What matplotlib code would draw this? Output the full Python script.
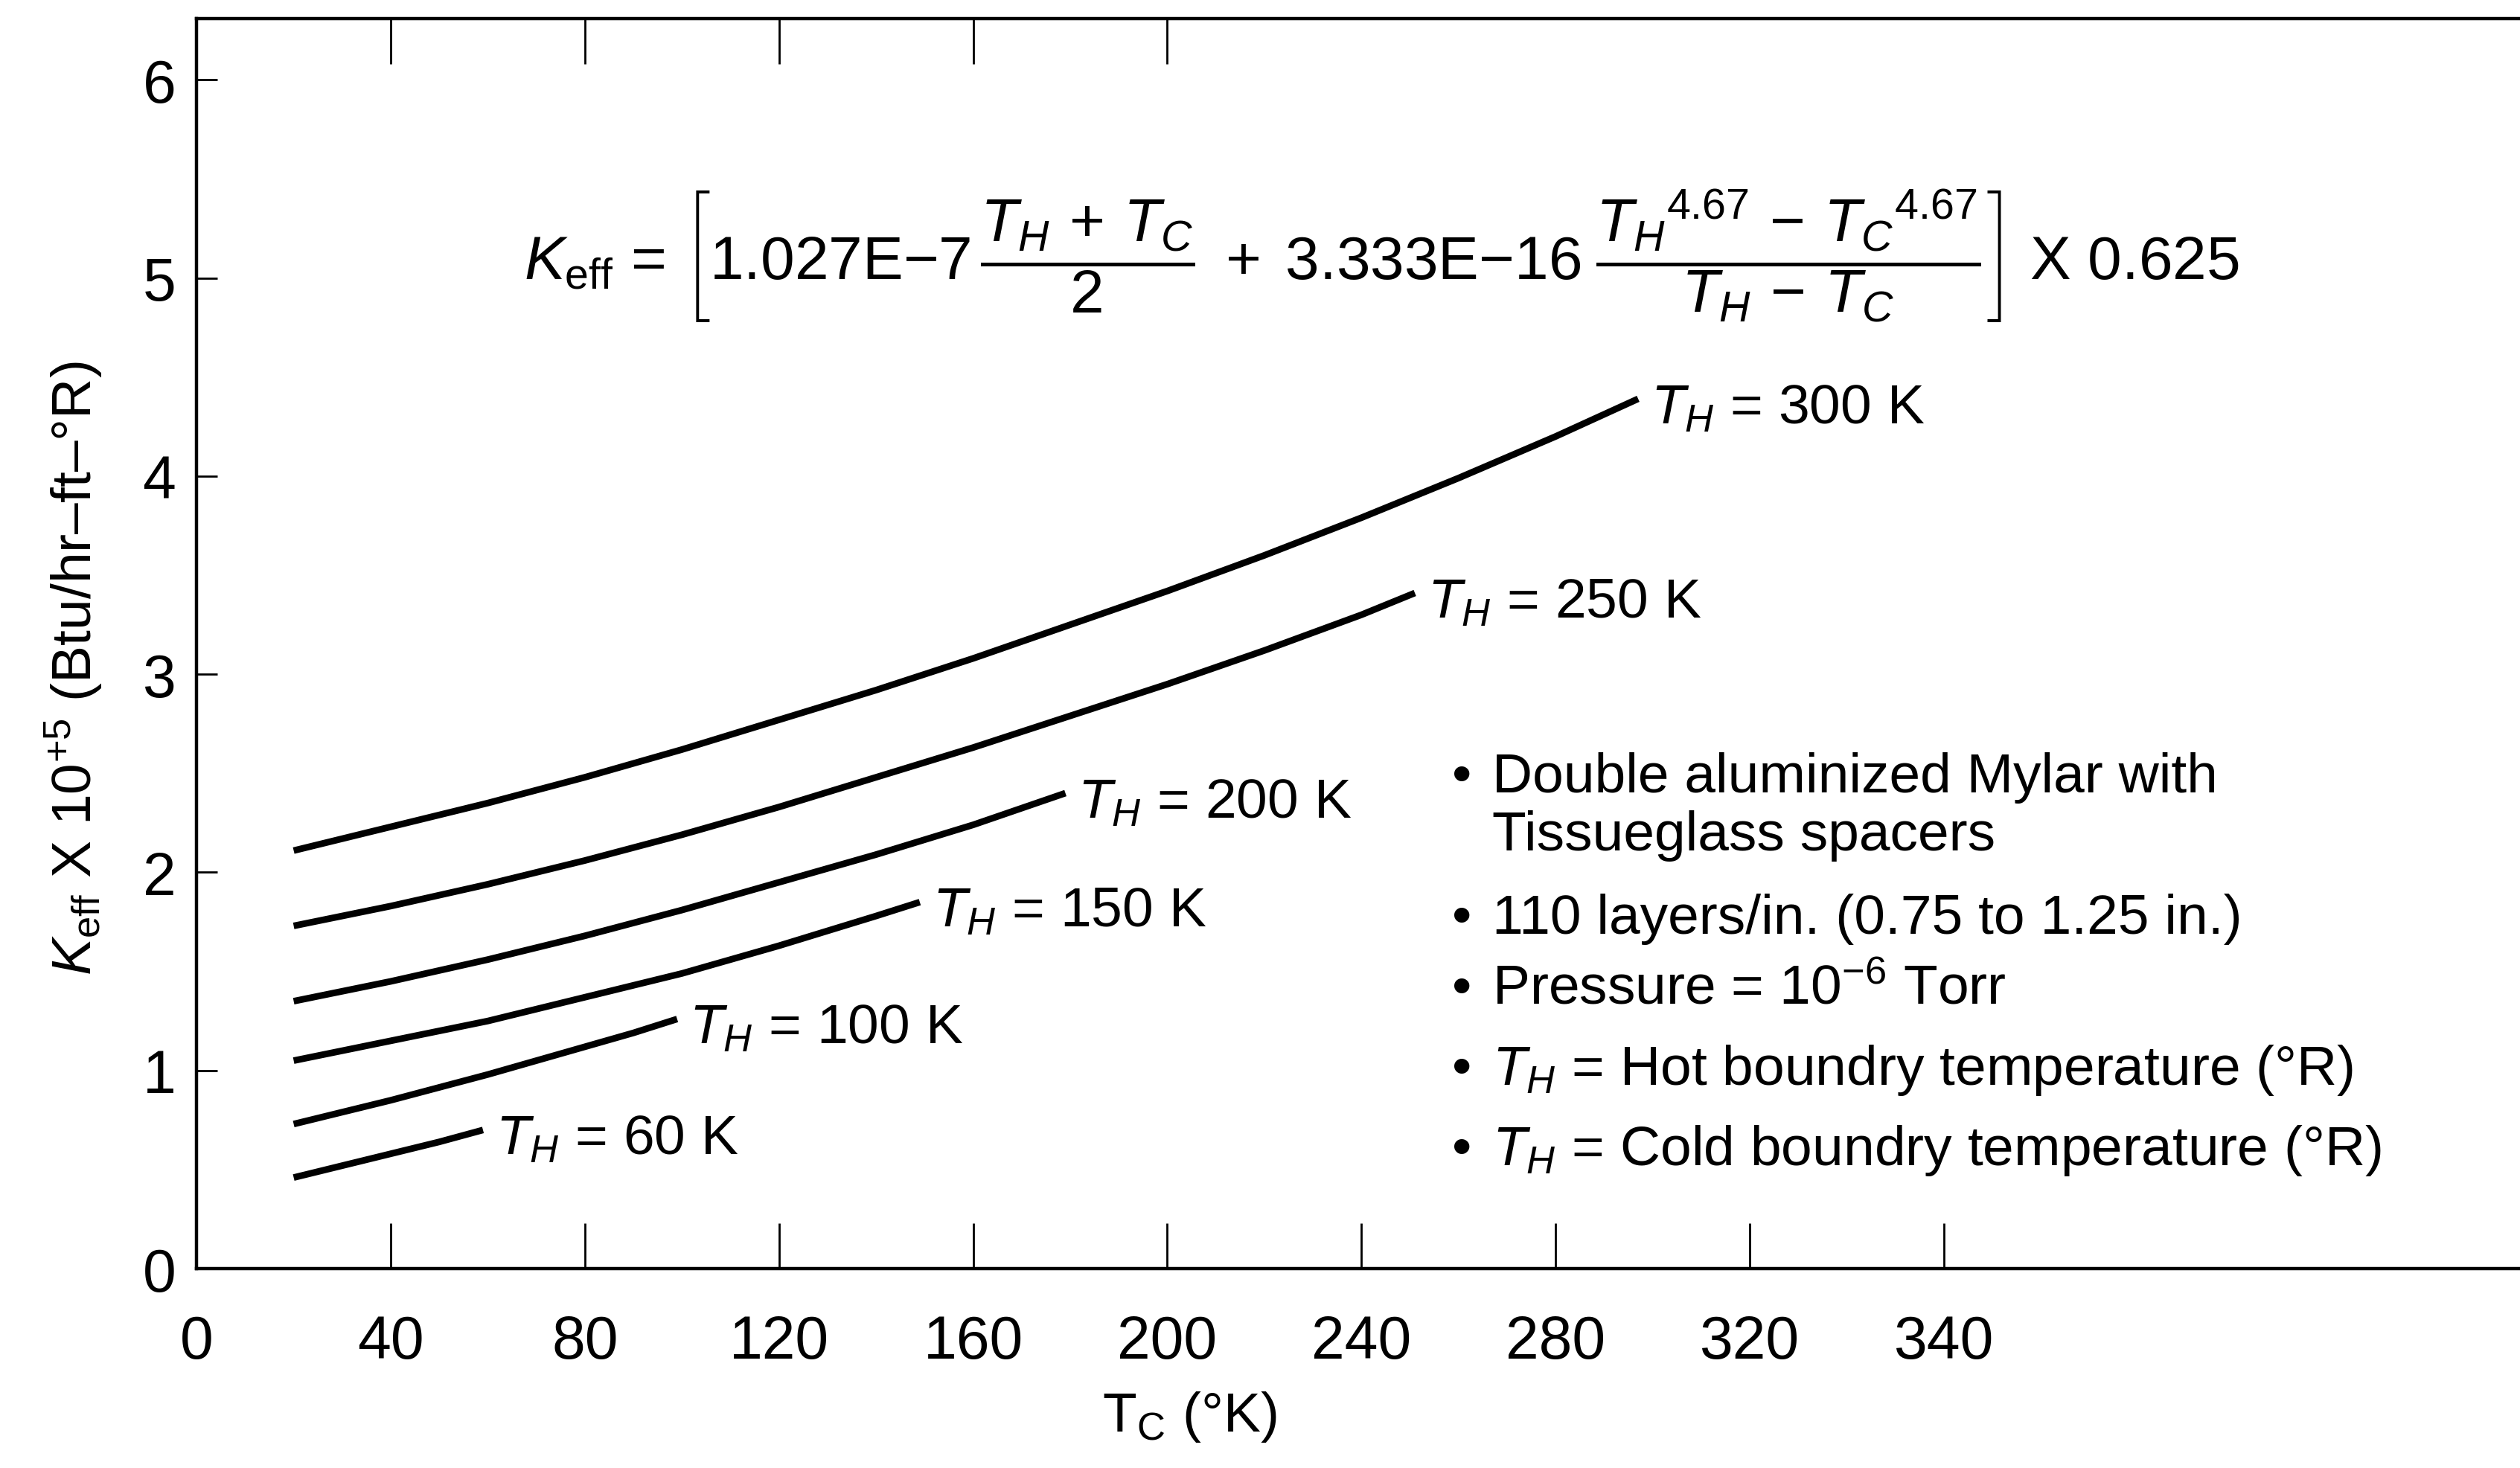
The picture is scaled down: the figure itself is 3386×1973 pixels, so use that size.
import numpy as np
import matplotlib
matplotlib.use("Agg")
import matplotlib.pyplot as plt

plt.rcParams['font.family'] = ['Liberation Sans', 'DejaVu Sans']
plt.rcParams['mathtext.fontset'] = 'custom'
plt.rcParams['mathtext.rm'] = 'Liberation Sans'
plt.rcParams['mathtext.it'] = 'Liberation Sans:italic'
plt.rcParams['mathtext.bf'] = 'Liberation Sans:bold'

# Curves: T_C (K) vs K_eff x 10^5 (Btu/hr-ft-R)
tc_300 = [20, 40, 60, 80, 100, 120, 140, 160, 180, 200, 220, 240, 260, 280, 297]
k_300 = [2.11, 2.23, 2.35, 2.48, 2.62, 2.77, 2.92, 3.08, 3.25, 3.42, 3.60, 3.79, 3.99, 4.20, 4.39]
tc_250 = [20, 40, 60, 80, 100, 120, 140, 160, 180, 200, 220, 240, 251]
k_250 = [1.73, 1.83, 1.94, 2.06, 2.19, 2.33, 2.48, 2.63, 2.79, 2.95, 3.12, 3.30, 3.41]
tc_200 = [20, 40, 60, 80, 100, 120, 140, 160, 179]
k_200 = [1.35, 1.45, 1.56, 1.68, 1.81, 1.95, 2.09, 2.24, 2.40]
tc_150 = [20, 40, 60, 80, 100, 120, 140, 149]
k_150 = [1.05, 1.15, 1.25, 1.37, 1.49, 1.63, 1.78, 1.85]
tc_100 = [20, 30, 40, 50, 60, 70, 80, 90, 99]
k_100 = [0.73, 0.79, 0.85, 0.915, 0.98, 1.05, 1.12, 1.19, 1.26]
tc_60 = [20, 30, 40, 50, 59]
k_60 = [0.46, 0.52, 0.58, 0.64, 0.70]

curve_labels = ['300', '250', '200', '150', '100', '60']
curves = [(tc_300, k_300), (tc_250, k_250), (tc_200, k_200),
          (tc_150, k_150), (tc_100, k_100), (tc_60, k_60)]

xtick_pos = [0, 40, 80, 120, 160, 200, 240, 280, 320, 360]
xtick_labels = ['0', '40', '80', '120', '160', '200', '240', '280', '320', '340']
ytick_pos = [0, 1, 2, 3, 4, 5, 6]

notes = [
    ('\u2022', 'Double aluminized Mylar with'),
    ('', 'Tissueglass spacers'),
    ('\u2022', '110 layers/in. (0.75 to 1.25 in.)'),
    ('\u2022', 'Pressure = 10$^{-6}$ Torr'),
    ('\u2022', '$T_H$ = Hot boundry temperature (\u00b0R)'),
    ('\u2022', '$T_H$ = Cold boundry temperature (\u00b0R)'),
]
note_y = [0.4606, 0.4212, 0.3643, 0.3162, 0.2615, 0.2068]

fig = plt.figure(figsize=(16.935, 9.87), dpi=200)
ax = fig.add_axes([0.078, 0.1357, 0.93, 0.8513])

for (tc, k), lab in zip(curves, curve_labels):
    ax.plot(tc, k, color='black', lw=3.2, solid_capstyle='butt', solid_joinstyle='round')
    ax.annotate('$T_H$ = %s K' % lab, xy=(tc[-1], k[-1]), xytext=(6, -11.5),
                textcoords='offset points', ha='left', va='baseline', fontsize=27)

ax.set_xlim(0, 483)
ax.set_ylim(0, 6.31)
ax.set_xticks(xtick_pos)
ax.set_xticklabels(xtick_labels)
ax.set_yticks(ytick_pos)
ax.tick_params(axis='x', direction='in', length=22, width=1.0, pad=22, labelsize=29)
ax.tick_params(axis='y', direction='in', length=10, width=1.0, pad=10, labelsize=29)
ax.spines['right'].set_visible(False)
for s in ['left', 'bottom', 'top']:
    ax.spines[s].set_linewidth(1.6)

top = ax.secondary_xaxis('top')
top.set_xticks([40, 80, 120, 160, 200])
top.tick_params(direction='in', length=22, width=1.0, labeltop=False)
top.spines['top'].set_visible(False)

fig.text(0.472, 0.035, 'T$_{\\rm C}$ (\u00b0K)', ha='center', va='center', fontsize=27)
fig.text(0.029, 0.545, '$K_{\\rm eff}$ X 10$^{+5}$ (Btu/hr\u2013ft\u2013\u00b0R)',
         ha='center', va='center', rotation=90, fontsize=27)

formula = (r'$K_{\rm eff}$ = $\left[1.027\mathrm{E}{-}7\,\dfrac{T_H\,+\,T_C}{2}\;+\;'
           r'3.333\mathrm{E}{-}16\;\dfrac{{T_H}^{4.67}\,-\,{T_C}^{4.67}}{T_H\,-\,T_C}\right]$ X 0.625')
fig.text(0.548, 0.825, formula, ha='center', va='center', fontsize=29.5)

for (b, t), y in zip(notes, note_y):
    if b:
        fig.text(0.576, y, b, ha='left', va='baseline', fontsize=27)
    fig.text(0.592, y, t, ha='left', va='baseline', fontsize=27)

fig.savefig('out.png', dpi=200)
